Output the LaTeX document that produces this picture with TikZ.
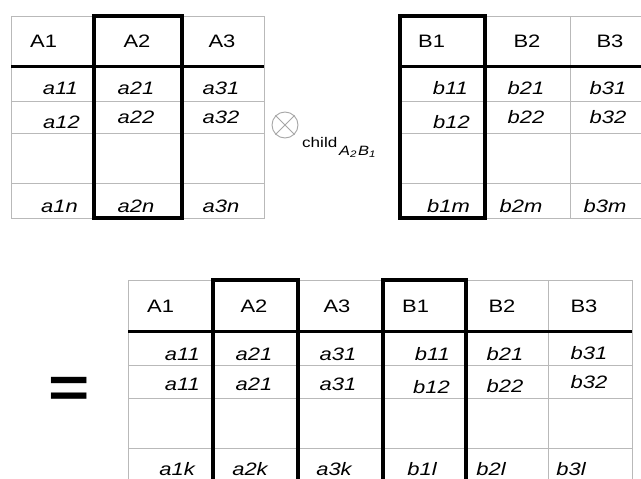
\documentclass[tikz,border=0pt]{standalone}
\usepackage{fontspec}
\setmainfont{Liberation Sans}[FakeStretch=1.22]
\usetikzlibrary{positioning}

\begin{document}
\begin{tikzpicture}[x=1pt, y=-1pt,
  grid/.style={draw=gray!55, line width=0.9pt},
  headline/.style={draw=black, line width=3pt},
  sel/.style={draw=black, line width=4.5pt},
  hd/.style={font=\fontsize{18}{18}\selectfont, anchor=base, inner sep=0pt},
  hdl/.style={hd, anchor=base west},
  cell/.style={font=\fontsize{18}{18}\selectfont\itshape, anchor=base, inner sep=0pt},
  cellr/.style={cell, anchor=base east},
]
\useasboundingbox (0,0) rectangle (641,479);
\clip (0,0) rectangle (641,479);

% Table A
\draw[grid] (11,16) rectangle (264,218);
\draw[grid] (94,16) -- (94,218) (182,16) -- (182,218)
  (11,101) -- (264,101) (11,133) -- (264,133) (11,183) -- (264,183);
\draw[headline] (11,66) -- (264,66);
\draw[sel] (94,16) rectangle (182,218);

\node[hdl] (tA1) at (30,47) {A1};
\node[hd] (tA2) at (137,47) {A2};
\node[hd] (tA3) at (222,47) {A3};
\node[cellr] (ta11) at (78,94) {a11};
\node[cell] (ta21) at (136,94) {a21};
\node[cell] (ta31) at (221,94) {a31};
\node[cellr] (ta12) at (80,128) {a12};
\node[cell] (ta22) at (136,123) {a22};
\node[cell] (ta32) at (221,123) {a32};
\node[cellr] (ta1n) at (78,212) {a1n};
\node[cell] (ta2n) at (136,212) {a2n};
\node[cell] (ta3n) at (221,212) {a3n};

% Operator
\node[circle, draw=gray!70, line width=0.9pt, minimum size=26pt, inner sep=0pt]
  (otimes) at (285,125) {};
\draw[gray!70, line width=0.9pt] (otimes.north west) -- (otimes.south east)
  (otimes.north east) -- (otimes.south west);
\node[anchor=base west, inner sep=0pt, font=\fontsize{14}{14}\selectfont]
  (child) at (302,147) {child};
\node[anchor=base west, inner sep=0pt, font=\fontsize{13.5}{13.5}\selectfont\itshape]
  (idx) at (339,155) {A\textsubscript{2}\kern1pt B\textsubscript{1}};

% Table B
\draw[grid] (655,16) -- (400,16) -- (400,218) -- (655,218);
\draw[grid] (485,16) -- (485,218) (570,16) -- (570,218)
  (400,101) -- (655,101) (400,133) -- (655,133) (400,183) -- (655,183);
\draw[headline] (400,66) -- (655,66);
\draw[sel] (400,16) rectangle (485,218);

\node[hdl] (tB1) at (418,47) {B1};
\node[hd] (tB2) at (527,47) {B2};
\node[hd] (tB3) at (610,47) {B3};
\node[cellr] (tb11) at (468,94) {b11};
\node[cell] (tb21) at (526,94) {b21};
\node[cell] (tb31) at (608,94) {b31};
\node[cellr] (tb12) at (470,128) {b12};
\node[cell] (tb22) at (526,123) {b22};
\node[cell] (tb32) at (608,123) {b32};
\node[cellr] (tb1m) at (470,212) {b1m};
\node[cell] (tb2m) at (521,212) {b2m};
\node[cell] (tb3m) at (605,212) {b3m};

% Equals
\node[anchor=base, inner sep=0pt, font=\fontsize{58}{58}\selectfont\bfseries]
  (eq) at (69.5,407) {=};

% Result table
\draw[grid] (128,280) rectangle (632,483);
\draw[grid] (213,280) -- (213,483) (298,280) -- (298,483) (383,280) -- (383,483)
  (466,280) -- (466,483) (548,280) -- (548,483)
  (128,365) -- (632,365) (128,398) -- (632,398) (128,448) -- (632,448);
\draw[headline] (128,331) -- (632,331);
\draw[sel] (213,280) rectangle (298,483);
\draw[sel] (383,280) rectangle (466,483);

\node[hdl] (rA1) at (147,312) {A1};
\node[hd] (rA2) at (254,312) {A2};
\node[hd] (rA3) at (337,312) {A3};
\node[hdl] (rB1) at (402,312) {B1};
\node[hd] (rB2) at (502,312) {B2};
\node[hd] (rB3) at (584,312) {B3};

\node[cellr] (ra11) at (200,360) {a11};
\node[cell] (ra21) at (254,360) {a21};
\node[cell] (ra31) at (338,360) {a31};
\node[cellr] (rb11) at (450,360) {b11};
\node[cell] (rb21) at (505,360) {b21};
\node[cell] (rb31) at (589,359) {b31};

\node[cellr] (ra11b) at (200,390) {a11};
\node[cell] (ra21b) at (254,390) {a21};
\node[cell] (ra31b) at (338,390) {a31};
\node[cellr] (rb12) at (450,393) {b12};
\node[cell] (rb22) at (505,392) {b22};
\node[cell] (rb32) at (589,388) {b32};

\node[cellr] (ra1k) at (195,475) {a1k};
\node[cell] (ra2k) at (250,475) {a2k};
\node[cell] (ra3k) at (334,475) {a3k};
\node[cellr] (rb1l) at (437,475) {b1l};
\node[cell] (rb2l) at (491,475) {b2l};
\node[cell] (rb3l) at (571,475) {b3l};
\end{tikzpicture}
\end{document}
